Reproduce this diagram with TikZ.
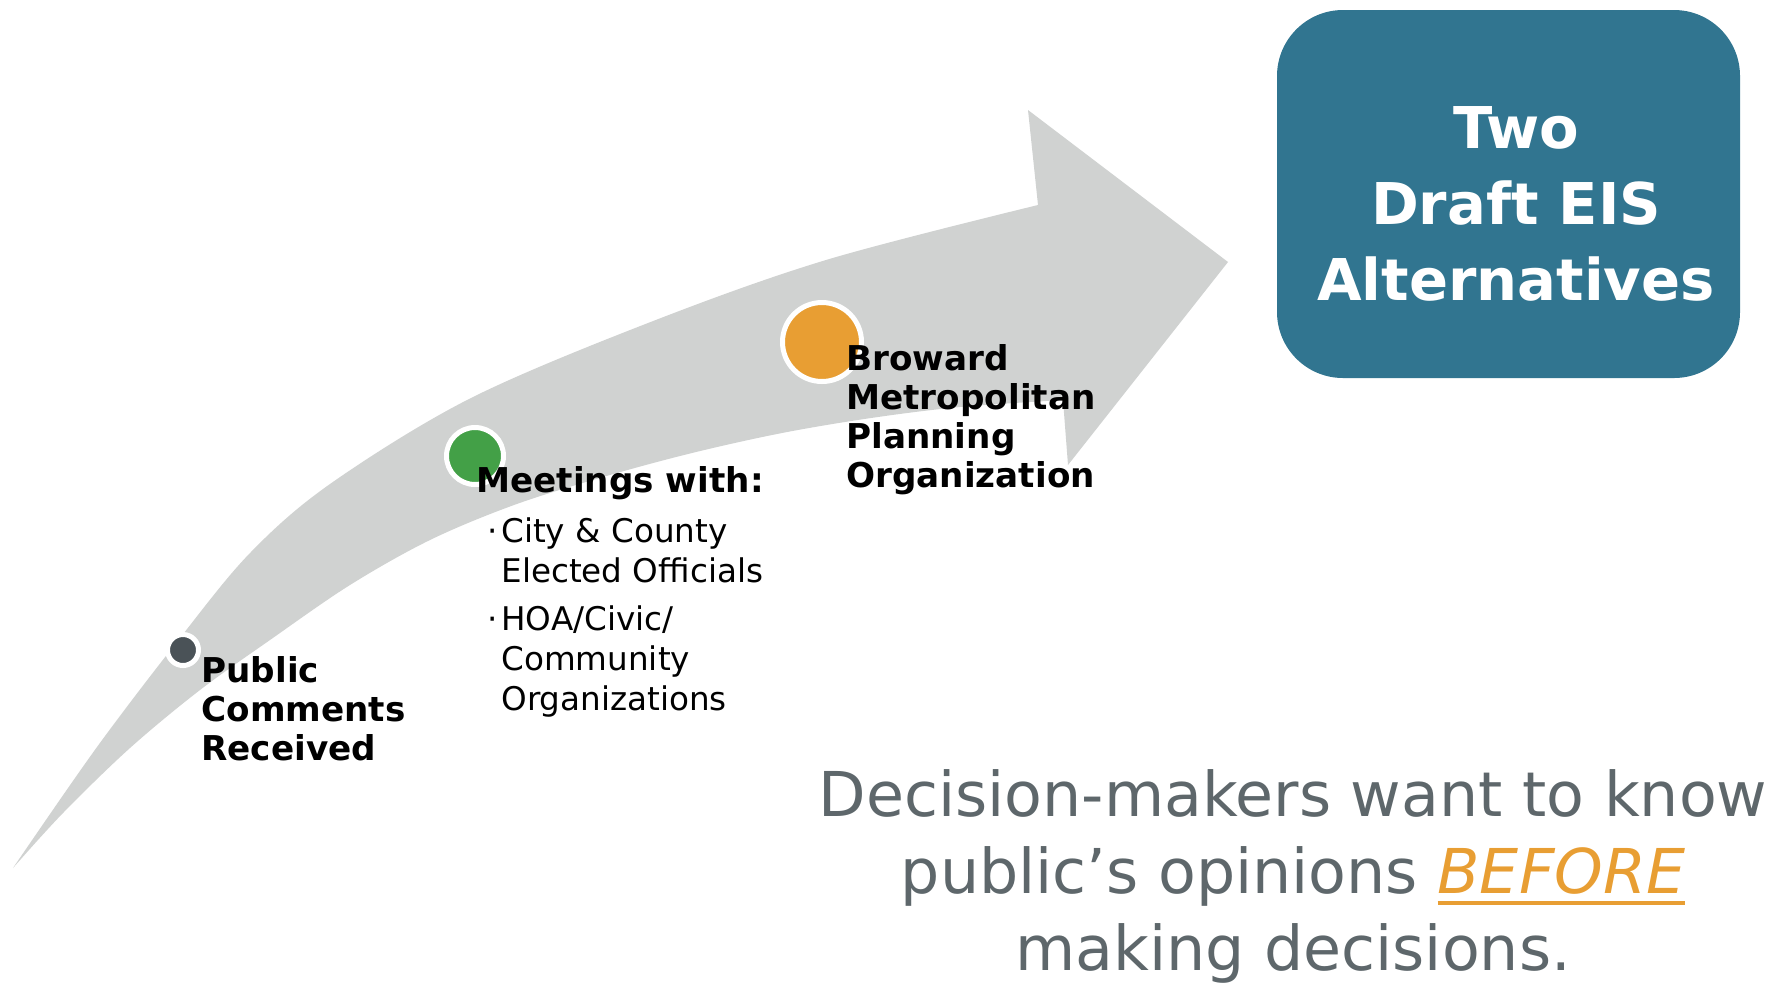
\documentclass[tikz,border=0pt]{standalone}
\usepackage{fontspec}
\setmainfont{DejaVu Sans}
\definecolor{arrowgray}{HTML}{D0D2D1}
\definecolor{darkdot}{HTML}{4A5257}
\definecolor{greendot}{HTML}{43A047}
\definecolor{orangedot}{HTML}{E89E33}
\definecolor{boxteal}{HTML}{317590}
\definecolor{textgray}{HTML}{5E676B}
\newcommand\thickul[1]{\setbox0\hbox{#1}\rlap{\rule[-6pt]{\wd0}{2pt}}\box0}
\newcommand\bul{\makebox[7pt][l]{·}}
\newcommand\ind{\makebox[7pt]{}}
\begin{document}
\begin{tikzpicture}[x=0.5pt,y=-0.5pt,
  lbl/.style={font=\fontsize{17.1}{19.5}\selectfont\bfseries, align=left, inner sep=0, text=black},
  sub/.style={font=\fontsize{16.3}{20}\selectfont, align=left, inner sep=0, text=black},
  dot/.style={circle, draw=white, line width=2.5pt, inner sep=0}]
\useasboundingbox (0,0) rectangle (1783,982);
% curved arrow
\fill[arrowgray] plot[smooth, tension=0.55] coordinates {(13,868) (97,747) (180,638) (250,553) (330,484) (469,399) (648,323) (826,260) (1038,205)}
  -- (1028,110) -- (1228,262) -- (1068,465) -- (1063,400)
  -- plot[smooth, tension=0.55] coordinates {(1063,400) (960,407) (871,418) (782,433) (692,453) (603,477) (514,505) (430,540) (350,585) (270,640) (200,690) (130,748) (63,813) (13,868)} -- cycle;
% dots
\node[dot, fill=darkdot, minimum size=15.5pt] (d1) at (183,650) {};
\node[dot, fill=greendot, minimum size=28.5pt] (d2) at (475,456) {};
\node[dot, fill=orangedot, minimum size=39.5pt] (d3) at (822,342) {};
% labels (base anchor = baseline of last line)
\node[lbl, anchor=base west] (t1) at (201,760) {Public\\Comments\\Received};
\node[lbl, anchor=base west] (t2) at (476,492) {Meetings with:};
\node[sub, anchor=base west] (t2b) at (487,710) {\bul City \& County\\ \ind Elected Officials\\[4pt] \bul HOA/Civic/\\ \ind Community\\ \ind Organizations};
\node[lbl, anchor=base west] (t3) at (846,487) {Broward\\Metropolitan\\Planning\\Organization};
% box
\node[fill=boxteal, rounded corners=33pt, minimum width=231.5pt, minimum height=184pt, inner sep=0] (box) at (1508.5,194) {};
\node[font=\fontsize{28.8}{38}\selectfont\bfseries, text=white, align=center, anchor=base, inner sep=0] (bt) at (1516,300) {Two\\Draft EIS\\Alternatives};
% bottom text
\node[font=\fontsize{30.9}{38.5}\selectfont, text=textgray, align=center, anchor=base, inner sep=0] (t4) at (1293,970) {Decision-makers want to know\\public’s opinions {\color{orangedot}\itshape\thickul{BEFORE}}\\making decisions.};
\end{tikzpicture}
\end{document}
